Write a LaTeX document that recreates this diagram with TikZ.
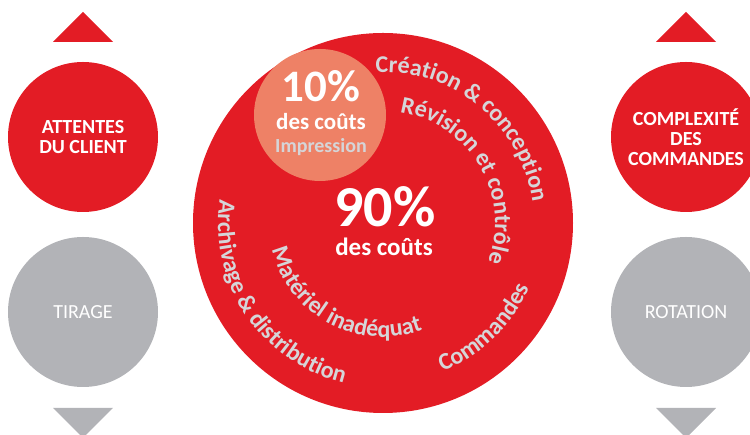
\documentclass[tikz,border=0pt]{standalone}
\usepackage{fontspec}
\setmainfont{Carlito}
\usetikzlibrary{decorations.text}
\definecolor{cred}{HTML}{E31C25}
\definecolor{cgray}{HTML}{B2B3B7}
\definecolor{csalmon}{HTML}{EE8166}
\definecolor{ctxt}{HTML}{D5D5D8}
\begin{document}
\begin{tikzpicture}[x=1pt,y=1pt,
  ball/.style={circle, inner sep=0pt, minimum size=150pt, text=white, align=center, font=\bfseries\fontsize{20}{20}\selectfont},
  redball/.style={ball, fill=cred},
  grayball/.style={ball, fill=cgray, font=\fontsize{20}{20}\selectfont},
  curved/.style={decorate, decoration={text along path, text align=center, text color=ctxt}},
  bigtext/.style={anchor=base, text=white, inner sep=0pt},
]
\useasboundingbox (0,0) rectangle (750,435);
% side arrows
\fill[cred] (53,393) -- (83,423) -- (113,393) -- cycle;
\fill[cred] (656,393) -- (686,423) -- (716,393) -- cycle;
\fill[cgray] (53,27) -- (113,27) -- (83,-3) -- cycle;
\fill[cgray] (656,27) -- (716,27) -- (686,-3) -- cycle;
% side circles
\node[redball] (attentes) at (83,298) {ATTENTES\\DU CLIENT};
\node[grayball] (tirage) at (83,123) {TIRAGE};
\node[redball] (complex) at (686,298) {COMPLEXITÉ\\DES\\COMMANDES};
\node[grayball] (rotation) at (686,123) {ROTATION};
% big circle
\node[circle, fill=cred, inner sep=0pt, minimum size=380pt] (big) at (383,212) {};
\node[circle, fill=csalmon, inner sep=0pt, minimum size=132pt] (imp) at (320,320) {};
\coordinate (C) at (383,212);
% texts
\node[bigtext, font=\bfseries\fontsize{45}{45}\selectfont] (ten) at (321,333) {10\%};
\node[bigtext, font=\bfseries\fontsize{23}{23}\selectfont] (tendes) at (321,305) {des coûts};
\node[bigtext, text=ctxt, font=\bfseries\fontsize{20}{20}\selectfont] (impr) at (321,282) {Impression};
\node[bigtext, font=\bfseries\fontsize{58}{58}\selectfont] (ninety) at (385,208) {90\%};
\node[bigtext, font=\bfseries\fontsize{25}{25}\selectfont] (ninetydes) at (384,179) {des coûts};
% curved texts
\path[curved, decoration={text={|\bfseries\fontsize{24}{24}\selectfont|Création {\&} conception}}]
  ([shift={(98.35:151)}]C) arc[start angle=98.35, end angle=2.35, radius=151];
\path[curved, decoration={text={|\bfseries\fontsize{24}{24}\selectfont|Révision et contrôle}}]
  ([shift={(87.5:112)}]C) arc[start angle=87.5, end angle=-26.5, radius=112];
\path[curved, decoration={text={|\bfseries\fontsize{24}{24}\selectfont|Commandes}}]
  ([shift={(-73:160)}]C) arc[start angle=-73, end angle=-19, radius=160];
\path[curved, decoration={text={|\bfseries\fontsize{24}{24}\selectfont|Matériel inadéquat}}]
  ([shift={(-172:114)}]C) arc[start angle=-172, end angle=-64, radius=114];
\path[curved, decoration={text={|\bfseries\fontsize{24}{24}\selectfont|Archivage {\&} distribution}}]
  ([shift={(166:165)}]C) arc[start angle=166, end angle=262, radius=165];
\end{tikzpicture}
\end{document}
